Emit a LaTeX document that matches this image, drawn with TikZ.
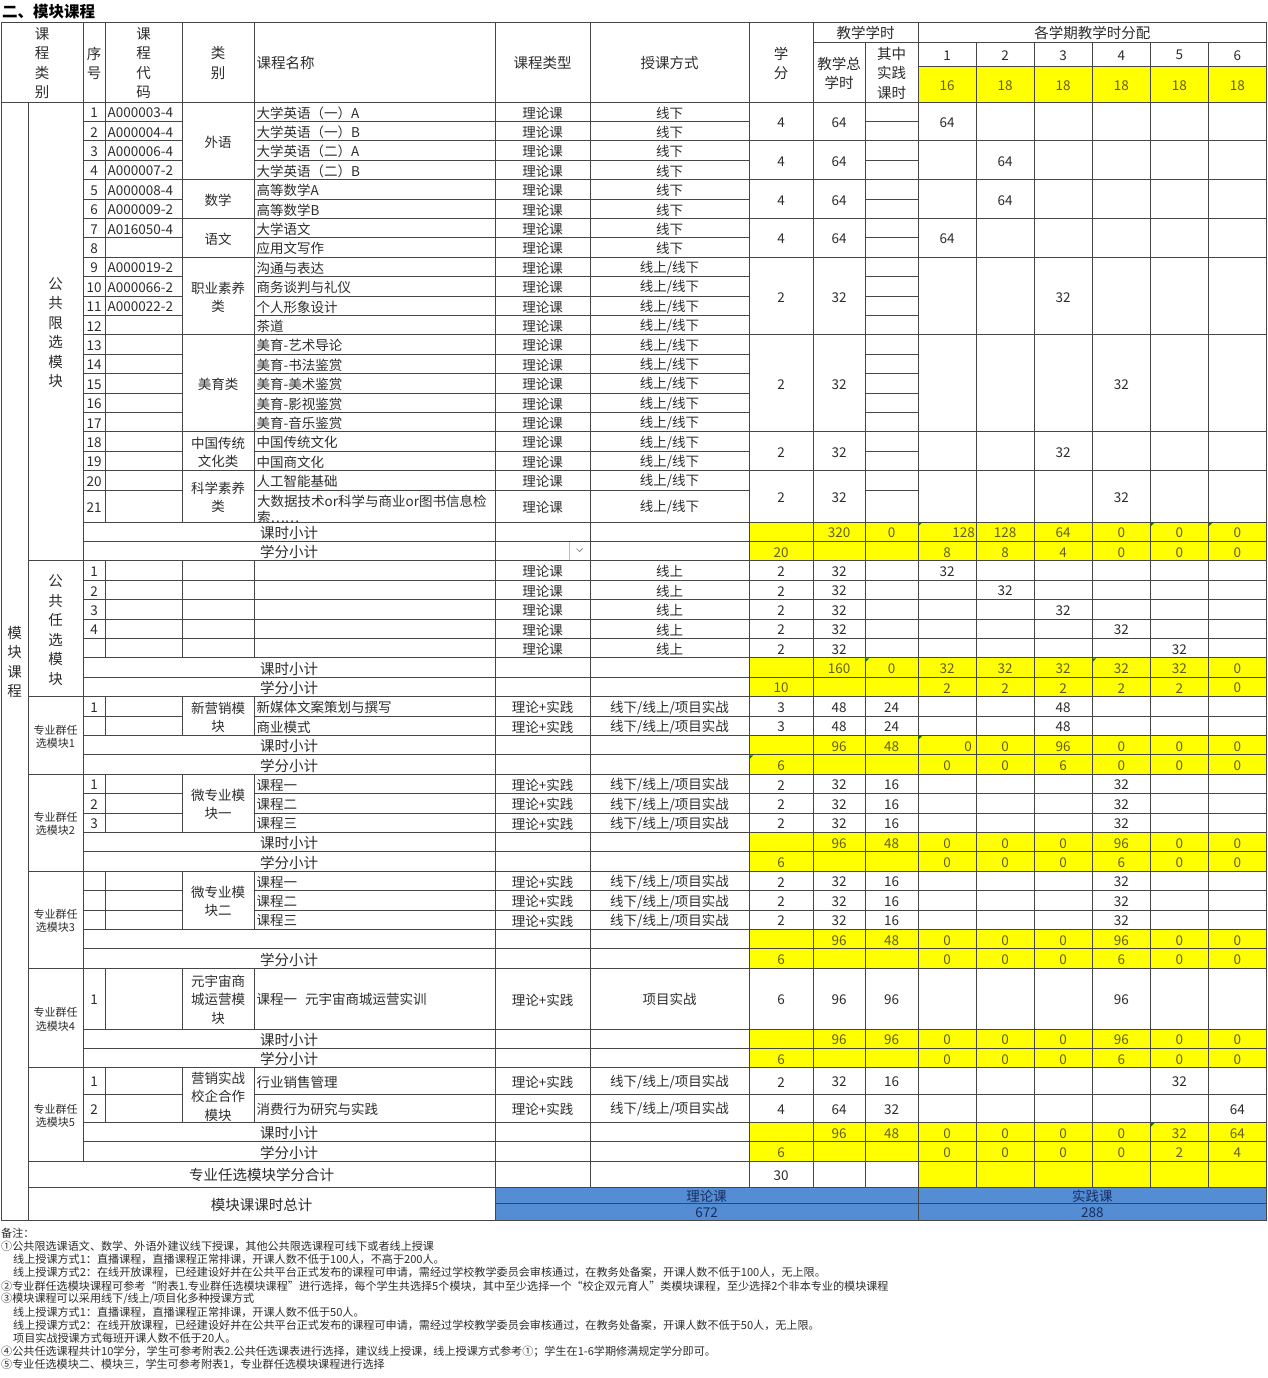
\documentclass[tikz,border=0pt]{standalone}
\usepackage{fontspec}
\setmainfont{Noto Sans CJK SC}
\usetikzlibrary{calc}

\definecolor{linec}{RGB}{70,70,70}
\definecolor{textc}{RGB}{45,45,45}
\definecolor{hlyel}{RGB}{255,255,0}
\definecolor{ytextc}{RGB}{100,95,15}
\definecolor{bluec}{RGB}{84,141,212}
\definecolor{bltext}{RGB}{25,45,95}
\definecolor{errc}{RGB}{0,128,0}

% one table cell: frame + centred text
\newcommand{\cellbox}[7][]{%
  \draw[cellline,#1] ({#2},{#3}) rectangle ({#4},{#5});
  \node[txt,#1] (#6) at ({((#2)+(#4))/2},{((#3)+(#5))/2}) {#7};
}
% one table cell: frame + left text
\newcommand{\lcell}[7][]{%
  \draw[cellline,#1] ({#2},{#3}) rectangle ({#4},{#5});
  \node[txt,#1,anchor=west] (#6) at ({(#2)+2.5},{((#3)+(#5))/2}) {#7};
}
% six semester cells
\newcommand{\semrow}[5][]{%
  \foreach \val [count=\col] in {#5}{%
    \cellbox[#1]{918+58.08*(\col-1)}{#2}{918+58.08*\col}{#3}{#4-s\col}{\val}%
  }%
}
% credit, hours, practice, semesters
\newcommand{\numcells}[8][]{%
  \cellbox[#1]{749}{#2}{813}{#3}{#4-cr}{#5}
  \cellbox[#1]{813}{#2}{865}{#3}{#4-hr}{#6}
  \cellbox[#1]{865}{#2}{918}{#3}{#4-pr}{#7}
  \semrow[#1]{#2}{#3}{#4}{#8}
}
% subtotal row, left part
\newcommand{\subrow}[4]{%
  \cellbox[hd]{83}{#1}{495}{#2}{#3-lb}{#4}
  \cellbox{495}{#1}{590}{#2}{#3-ty}{}
  \cellbox{590}{#1}{749}{#2}{#3-md}{}
}
% course row, left part
\newcommand{\prow}[7]{%
  \cellbox{83}{#1}{105}{#2}{#3-sn}{#4}
  \cellbox{105}{#1}{182}{#2}{#3-cd}{}
  \lcell{254}{#1}{495}{#2}{#3-nm}{#5}
  \cellbox{495}{#1}{590}{#2}{#3-ty}{#6}
  \cellbox{590}{#1}{749}{#2}{#3-md}{#7}
}

\begin{document}
\begin{tikzpicture}[x=1pt, y=-1pt,
    % base styles for the table
    cellline/.style={draw=linec, line width=0.9pt},
    txt/.style={font=\fontsize{13.5}{16}\selectfont, text=textc, inner sep=0pt, yshift=-1.2pt},
    hd/.style={font=\fontsize{14.5}{19.5}\selectfont, align=center},
    cat/.style={font=\fontsize{13.5}{18.5}\selectfont, align=center},
    sm/.style={font=\fontsize{11}{13.5}\selectfont, align=center},
    hl/.style={fill=hlyel, text=ytextc},
    bl/.style={fill=bluec, text=bltext},
    note/.style={anchor=west, font=\fontsize{11.1}{13}\selectfont, text=textc, inner sep=0pt},
    errmark/.style={fill=errc}
]

\fill[white] (0,0) rectangle (1267,1378);
\useasboundingbox (0,0) rectangle (1267,1378);

\node[anchor=west, inner sep=0pt, text=black, font=\bfseries\fontsize{15.5}{17}\selectfont] (title) at (2,12) {二、模块课程};

% ==================== HEADER ====================
\cellbox[hd]{1}{22}{83}{102}{h-kind}{课\\程\\类\\别}
\cellbox[hd]{83}{22}{105}{102}{h-sn}{序\\号}
\cellbox[hd]{105}{22}{182}{102}{h-cd}{课\\程\\代\\码}
\cellbox[hd]{182}{22}{254}{102}{h-cl}{类\\别}
\lcell[hd]{254}{22}{495}{102}{h-nm}{课程名称}
\cellbox[hd]{495}{22}{590}{102}{h-ty}{课程类型}
\cellbox[hd]{590}{22}{749}{102}{h-md}{授课方式}
\cellbox[hd]{749}{22}{813}{102}{h-cr}{学\\分}
\cellbox[hd]{813}{22}{918}{42}{h-hrs}{教学学时}
\cellbox[hd]{813}{42}{865}{102}{h-tot}{教学总\\学时}
\cellbox[hd]{865}{42}{918}{102}{h-pr}{其中\\实践\\课时}
\cellbox[hd]{918}{22}{1266.5}{42}{h-sem}{各学期教学时分配}
\semrow{42}{66}{h-no}{1,2,3,4,5,6}
\semrow[hl]{66}{102}{h-wk}{16,18,18,18,18,18}

% ==================== BLOCK 1: PUBLIC LIMITED ====================
\cellbox[hd]{1}{102}{28}{1220}{mod}{模\\块\\课\\程}
\cellbox[hd]{28}{102}{83}{560.8}{pub}{公\\共\\限\\选\\模\\块}
% course rows 1-20
\foreach \cd/\nm/\md [count=\idx] in {
    A000003-4/大学英语（一）A/线下,
    A000004-4/大学英语（一）B/线下,
    A000006-4/大学英语（二）A/线下,
    A000007-2/大学英语（二）B/线下,
    A000008-4/高等数学A/线下,
    A000009-2/高等数学B/线下,
    A016050-4/大学语文/线下,
    /应用文写作/线下,
    A000019-2/沟通与表达/{线上/线下},
    A000066-2/商务谈判与礼仪/{线上/线下},
    A000022-2/个人形象设计/{线上/线下},
    /茶道/{线上/线下},
    /美育-艺术导论/{线上/线下},
    /美育-书法鉴赏/{线上/线下},
    /美育-美术鉴赏/{线上/线下},
    /美育-影视鉴赏/{线上/线下},
    /美育-音乐鉴赏/{线上/线下},
    /中国传统文化/{线上/线下},
    /中国商文化/{线上/线下},
    /人工智能基础/{线上/线下}} {
  \pgfmathsetmacro\yt{102+19.4*(\idx-1)}
  \pgfmathsetmacro\yb{\yt+19.4}
  \cellbox{83}{\yt}{105}{\yb}{l\idx-sn}{\idx}
  \lcell{105}{\yt}{182}{\yb}{l\idx-cd}{\cd}
  \lcell{254}{\yt}{495}{\yb}{l\idx-nm}{\nm}
  \cellbox{495}{\yt}{590}{\yb}{l\idx-ty}{理论课}
  \cellbox{590}{\yt}{749}{\yb}{l\idx-md}{\md}
  \cellbox{865}{\yt}{918}{\yb}{l\idx-pr}{}
}
% row 21 (two lines, cut)
\cellbox{83}{490}{105}{522}{l21-sn}{21}
\cellbox{105}{490}{182}{522}{l21-cd}{}
\draw[cellline] (254,490) rectangle (495,522);
\begin{scope}
  \clip (254,490) rectangle (495,522);
  \node[txt, anchor=base west] (l21-nm) at (257,505.5) {大数据技术or科学与商业or图书信息检};
  \node[txt, anchor=base west] (l21-nm2) at (257,521.5) {索……};
\end{scope}
\cellbox{495}{490}{590}{522}{l21-ty}{理论课}
\cellbox{590}{490}{749}{522}{l21-md}{线上/线下}
\cellbox{865}{490}{918}{522}{l21-pr}{}
% categories
\foreach \yt/\yb/\ct [count=\idx] in {102/179.6/外语, 179.6/218.4/数学, 218.4/257.2/语文,
    257.2/334.8/职业素养\\类, 334.8/431.8/美育类, 431.8/470.6/中国传统\\文化类, 470.6/522/科学素养\\类}
  {\cellbox[cat]{182}{\yt}{254}{\yb}{cat\idx}{\ct}}
% credit groups
\foreach \yt/\yb/\cred/\hrs/\sem [count=\idx] in {102/140.8/4/64/1, 140.8/179.6/4/64/2,
    179.6/218.4/4/64/2, 218.4/257.2/4/64/1, 257.2/334.8/2/32/3, 334.8/431.8/2/32/4,
    431.8/470.6/2/32/3, 470.6/522/2/32/4} {
  \cellbox{749}{\yt}{813}{\yb}{grp\idx-cr}{\cred}
  \cellbox{813}{\yt}{865}{\yb}{grp\idx-hr}{\hrs}
  \foreach \col in {1,...,6}{
    \cellbox{918+58.08*(\col-1)}{\yt}{918+58.08*\col}{\yb}{grp\idx-s\col}{\ifnum\col=\sem\relax\hrs\fi}
  }
}
% subtotals
\subrow{522}{541.4}{pa}{课时小计}
\numcells[hl]{522}{541.4}{pa}{}{320}{0}{{},128,64,0,0,0}
\node[txt,hl,anchor=east] (pa-s1v) at (975,531.7) {128};
\subrow{541.4}{560.8}{pb}{学分小计}
\numcells[hl]{541.4}{560.8}{pb}{20}{}{}{8,8,4,0,0,0}
\draw[black!25, line width=0.6pt] (569.5,542) -- (569.5,560.3);
\draw[black!55, line width=0.7pt] (576.5,548.5) -- (579.5,551.5) -- (582.5,548.5);

% ==================== BLOCK 2: PUBLIC OPTIONAL ====================
\cellbox[hd]{28}{560.8}{83}{696.6}{pubx}{公\\共\\任\\选\\模\\块}
\prow{560.8}{580.2}{e1}{1}{}{理论课}{线上}
\cellbox{182}{560.8}{254}{580.2}{e1-cl}{}
\numcells{560.8}{580.2}{e1}{2}{32}{}{32,{},{},{},{},{}}
\prow{580.2}{599.6}{e2}{2}{}{理论课}{线上}
\cellbox{182}{580.2}{254}{599.6}{e2-cl}{}
\numcells{580.2}{599.6}{e2}{2}{32}{}{{},32,{},{},{},{}}
\prow{599.6}{619}{e3}{3}{}{理论课}{线上}
\cellbox{182}{599.6}{254}{619}{e3-cl}{}
\numcells{599.6}{619}{e3}{2}{32}{}{{},{},32,{},{},{}}
\prow{619}{638.4}{e4}{4}{}{理论课}{线上}
\cellbox{182}{619}{254}{638.4}{e4-cl}{}
\numcells{619}{638.4}{e4}{2}{32}{}{{},{},{},32,{},{}}
\prow{638.4}{657.8}{e5}{}{}{理论课}{线上}
\cellbox{182}{638.4}{254}{657.8}{e5-cl}{}
\numcells{638.4}{657.8}{e5}{2}{32}{}{{},{},{},{},32,{}}
\subrow{657.8}{677.2}{ea}{课时小计}
\numcells[hl]{657.8}{677.2}{ea}{}{160}{0}{32,32,32,32,32,0}
\subrow{677.2}{696.6}{eb}{学分小计}
\numcells[hl]{677.2}{696.6}{eb}{10}{}{}{2,2,2,2,2,0}

% ==================== BLOCK 3: GROUP 1 ====================
\cellbox[sm]{28}{696.6}{83}{774.2}{grp1}{专业群任\\选模块1}
\cellbox[cat]{182}{696.6}{254}{735.4}{grp1-cl}{新营销模\\块}
\prow{696.6}{716}{g1a}{1}{新媒体文案策划与撰写}{理论+实践}{线下/线上/项目实战}
\numcells{696.6}{716}{g1a}{3}{48}{24}{{},{},48,{},{},{}}
\prow{716}{735.4}{g1b}{}{商业模式}{理论+实践}{线下/线上/项目实战}
\numcells{716}{735.4}{g1b}{3}{48}{24}{{},{},48,{},{},{}}
\subrow{735.4}{754.8}{g1k}{课时小计}
\numcells[hl]{735.4}{754.8}{g1k}{}{96}{48}{{},0,96,0,0,0}
\node[txt,hl,anchor=east] (g1k-s1v) at (972,745.1) {0};
\subrow{754.8}{774.2}{g1c}{学分小计}
\numcells[hl]{754.8}{774.2}{g1c}{6}{}{}{0,0,6,0,0,0}

% ==================== BLOCK 4: GROUP 2 ====================
\cellbox[sm]{28}{774.2}{83}{871.2}{grp2}{专业群任\\选模块2}
\cellbox[cat]{182}{774.2}{254}{832.4}{grp2-cl}{微专业模\\块一}
\prow{774.2}{793.6}{g2a}{1}{课程一}{理论+实践}{线下/线上/项目实战}
\numcells{774.2}{793.6}{g2a}{2}{32}{16}{{},{},{},32,{},{}}
\prow{793.6}{813}{g2b}{2}{课程二}{理论+实践}{线下/线上/项目实战}
\numcells{793.6}{813}{g2b}{2}{32}{16}{{},{},{},32,{},{}}
\prow{813}{832.4}{g2d}{3}{课程三}{理论+实践}{线下/线上/项目实战}
\numcells{813}{832.4}{g2d}{2}{32}{16}{{},{},{},32,{},{}}
\subrow{832.4}{851.8}{g2k}{课时小计}
\numcells[hl]{832.4}{851.8}{g2k}{}{96}{48}{0,0,0,96,0,0}
\subrow{851.8}{871.2}{g2c}{学分小计}
\numcells[hl]{851.8}{871.2}{g2c}{6}{}{}{0,0,0,6,0,0}

% ==================== BLOCK 5: GROUP 3 ====================
\cellbox[sm]{28}{871.2}{83}{968.2}{grp3}{专业群任\\选模块3}
\cellbox[cat]{182}{871.2}{254}{929.4}{grp3-cl}{微专业模\\块二}
\prow{871.2}{890.6}{g3a}{}{课程一}{理论+实践}{线下/线上/项目实战}
\numcells{871.2}{890.6}{g3a}{2}{32}{16}{{},{},{},32,{},{}}
\prow{890.6}{910}{g3b}{}{课程二}{理论+实践}{线下/线上/项目实战}
\numcells{890.6}{910}{g3b}{2}{32}{16}{{},{},{},32,{},{}}
\prow{910}{929.4}{g3d}{}{课程三}{理论+实践}{线下/线上/项目实战}
\numcells{910}{929.4}{g3d}{2}{32}{16}{{},{},{},32,{},{}}
\subrow{929.4}{948.8}{g3k}{}
\numcells[hl]{929.4}{948.8}{g3k}{}{96}{48}{0,0,0,96,0,0}
\subrow{948.8}{968.2}{g3c}{学分小计}
\numcells[hl]{948.8}{968.2}{g3c}{6}{}{}{0,0,0,6,0,0}

% ==================== BLOCK 6: GROUP 4 ====================
\cellbox[sm]{28}{968.2}{83}{1067.8}{grp4}{专业群任\\选模块4}
\cellbox[cat]{182}{968.2}{254}{1029}{grp4-cl}{元宇宙商\\城运营模\\块}
\prow{968.2}{1029}{g4a}{1}{课程一\hspace{8pt}元宇宙商城运营实训}{理论+实践}{项目实战}
\numcells{968.2}{1029}{g4a}{6}{96}{96}{{},{},{},96,{},{}}
\subrow{1029}{1048.4}{g4k}{课时小计}
\numcells[hl]{1029}{1048.4}{g4k}{}{96}{96}{0,0,0,96,0,0}
\subrow{1048.4}{1067.8}{g4c}{学分小计}
\numcells[hl]{1048.4}{1067.8}{g4c}{6}{}{}{0,0,0,6,0,0}

% ==================== BLOCK 7: GROUP 5 ====================
\cellbox[sm]{28}{1067.8}{83}{1161.3}{grp5}{专业群任\\选模块5}
\cellbox[cat]{182}{1067.8}{254}{1122.5}{grp5-cl}{营销实战\\校企合作\\模块}
\prow{1067.8}{1094}{g5a}{1}{行业销售管理}{理论+实践}{线下/线上/项目实战}
\numcells{1067.8}{1094}{g5a}{2}{32}{16}{{},{},{},{},32,{}}
\prow{1094}{1122.5}{g5b}{2}{消费行为研究与实践}{理论+实践}{线下/线上/项目实战}
\numcells{1094}{1122.5}{g5b}{4}{64}{32}{{},{},{},{},{},64}
\subrow{1122.5}{1141.9}{g5k}{课时小计}
\numcells[hl]{1122.5}{1141.9}{g5k}{}{96}{48}{0,0,0,0,32,64}
\subrow{1141.9}{1161.3}{g5c}{学分小计}
\numcells[hl]{1141.9}{1161.3}{g5c}{6}{}{}{0,0,0,0,2,4}

% ==================== TOTALS ====================
\cellbox[hd]{28}{1161.3}{495}{1187}{sum}{专业任选模块学分合计}
\cellbox{495}{1161.3}{590}{1187}{sum-ty}{}
\cellbox{590}{1161.3}{749}{1187}{sum-md}{}
\numcells{1161.3}{1187}{sum}{30}{}{}{{},{},{},{},{},{}}
\semrow[hl]{1161.3}{1187}{sum}{{},{},{},{},{},{}}
\cellbox[hd]{28}{1187}{495}{1220}{tot}{模块课课时总计}
\cellbox[bl]{495}{1187}{918}{1203.5}{tot-th}{理论课}
\cellbox[bl]{918}{1187}{1266.5}{1203.5}{tot-pr}{实践课}
\cellbox[bl]{495}{1203.5}{918}{1220}{tot-thv}{672}
\cellbox[bl]{918}{1203.5}{1266.5}{1220}{tot-prv}{288}

% small corner marks
\foreach \x/\y in {918/522, 1150.3/522, 1208.4/522, 865/657.8, 1092.2/657.8, 918/735.4, 749/754.8, 1150.3/1122.5}
  \fill[errmark] ({\x+0.6},{\y+0.6}) -- ++(3.5,0) -- ++(-3.5,3.5) -- cycle;

% ==================== NOTES ====================
\foreach \nx/\ntext [count=\nidx from 0] in {
  1/备注：,
  1/①公共限选课语文、数学、外语外建议线下授课，其他公共限选课程可线下或者线上授课,
  13/线上授课方式1：直播课程，直播课程正常排课，开课人数不低于100人，不高于200人。,
  13/线上授课方式2：在线开放课程，已经建设好并在公共平台正式发布的课程可申请，需经过学校教学委员会审核通过，在教务处备案，开课人数不低于100人，无上限。,
  1/②专业群任选模块课程可参考“附表1.专业群任选模块课程”进行选择，每个学生共选择5个模块，其中至少选择一个“校企双元育人”类模块课程，至少选择2个非本专业的模块课程,
  1/{③模块课程可以采用线下/线上/项目化多种授课方式},
  13/线上授课方式1：直播课程，直播课程正常排课，开课人数不低于50人。,
  13/线上授课方式2：在线开放课程，已经建设好并在公共平台正式发布的课程可申请，需经过学校教学委员会审核通过，在教务处备案，开课人数不低于50人，无上限。,
  13/项目实战授课方式每班开课人数不低于20人。,
  1/④公共任选课程共计10学分，学生可参考附表2.公共任选课表进行选择，建议线上授课，线上授课方式参考①；学生在1-6学期修满规定学分即可。,
  1/⑤专业任选模块二、模块三，学生可参考附表1，专业群任选模块课程进行选择}
  \node[note] (note\nidx) at (\nx,{1233.5+13.1*\nidx}) {\ntext};

\end{tikzpicture}
\end{document}
